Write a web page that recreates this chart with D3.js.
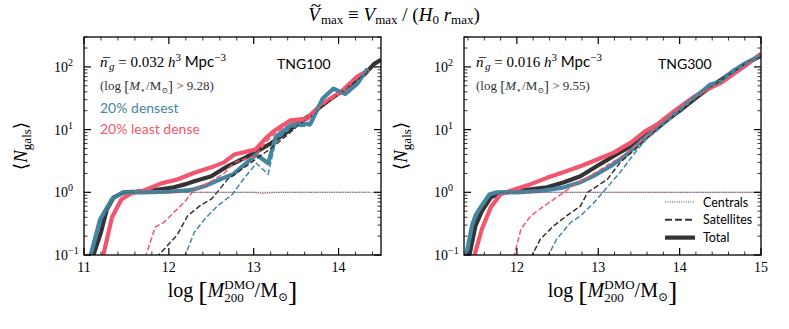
<!DOCTYPE html>
<html>
<head>
<meta charset="utf-8">
<script src="https://cdn.jsdelivr.net/npm/d3@7"></script>
<style>
body { margin: 0; background: #fff; }
svg text { white-space: pre; }
</style>
</head>
<body>
<svg id="fig" width="789" height="329"></svg>
<script>
// ---- TNG100 (left panel): [log M200, <N>] ----
var tng100AllTotal = [[11.10,0.09],[11.20,0.23],[11.27,0.54],[11.35,0.83],[11.47,1.0],[11.62,1.03],[11.86,1.1],[12.06,1.2],[12.2,1.35],[12.3,1.5],[12.5,1.8],[12.69,2.6],[12.89,3.5],[13.04,4.5],[13.2,6],[13.4,9.3],[13.55,13.5],[13.67,17],[13.8,24],[13.91,31],[14.03,40],[14.15,54],[14.3,75],[14.42,112],[14.5,130]];
var tng100LowTotal = [[11.22,0.09],[11.33,0.4],[11.44,0.77],[11.56,0.97],[11.71,1.07],[11.91,1.39],[12.1,1.6],[12.3,2.05],[12.5,2.5],[12.65,3.0],[12.77,4.0],[13.02,4.8],[13.13,7],[13.23,9.3],[13.43,14],[13.63,15],[13.79,25],[14.03,40],[14.22,70],[14.36,90]];
var tng100HighTotal = [[11.07,0.09],[11.19,0.37],[11.33,0.78],[11.46,1.0],[11.7,1.0],[12.0,1.02],[12.21,1.07],[12.3,1.12],[12.45,1.3],[12.6,1.6],[12.76,1.95],[13.03,4.0],[13.17,2.9],[13.26,7.7],[13.45,12],[13.67,12.5],[13.81,31],[13.94,45],[14.08,37],[14.22,54],[14.34,93]];

var tng100AllSat = [[11.85,0.09],[11.98,0.14],[12.1,0.21],[12.22,0.42],[12.36,0.6],[12.5,0.78],[12.57,1.0],[12.69,1.6],[12.89,2.5],[13.04,3.5],[13.2,5],[13.4,8.3],[13.55,12.5],[13.67,16],[13.8,23],[13.91,30],[14.03,39],[14.15,53],[14.3,74],[14.42,111],[14.5,129]];
var tng100LowSat = [[11.72,0.09],[11.84,0.28],[11.94,0.33],[12.06,0.48],[12.18,0.69],[12.3,1.1],[12.5,1.5],[12.65,2.0],[12.77,3.0],[13.02,3.8],[13.13,6],[13.23,8.3],[13.43,13],[13.63,14],[13.79,24],[14.03,39],[14.22,69],[14.36,89]];
var tng100HighSat = [[12.18,0.09],[12.3,0.23],[12.42,0.37],[12.57,0.6],[12.75,0.93],[12.86,1.5],[13.03,2.9],[13.17,1.95],[13.26,6.7],[13.45,11],[13.67,11.5],[13.81,30],[13.94,44],[14.08,36],[14.22,53],[14.34,92]];

var tng100AllCen = [[11.10,0.09],[11.20,0.23],[11.27,0.54],[11.35,0.83],[11.47,0.98],[11.62,1.0],[14.5,1.0]];
var tng100LowCen = [[11.22,0.09],[11.33,0.4],[11.44,0.77],[11.56,0.97],[11.71,1.0],[13.0,1.0],[13.1,0.97],[13.2,1.0],[14.36,1.0]];
var tng100HighCen = [[11.07,0.09],[11.19,0.37],[11.33,0.78],[11.46,0.99],[11.7,1.0],[13.0,1.0],[13.1,0.94],[13.2,0.97],[13.3,1.0],[14.34,1.0]];

// ---- TNG300 (right panel) ----
var tng300AllTotal = [[11.41,0.09],[11.49,0.29],[11.57,0.5],[11.68,0.83],[11.8,0.98],[12.0,1.05],[12.37,1.2],[12.58,1.45],[12.78,1.8],[12.98,2.6],[13.19,3.8],[13.35,5.0],[13.52,7],[13.75,11.5],[14.0,20],[14.2,32],[14.4,50],[14.6,75],[14.8,112],[15.0,150]];
var tng300LowTotal = [[11.47,0.09],[11.57,0.26],[11.68,0.58],[11.8,0.93],[11.96,1.1],[12.17,1.35],[12.37,1.7],[12.58,2.1],[12.78,2.6],[12.98,3.3],[13.19,4.3],[13.4,6.2],[13.57,9.3],[13.72,12],[13.96,21],[14.17,33],[14.37,46],[14.5,55],[14.65,75],[14.82,107],[15.0,162]];
var tng300HighTotal = [[11.37,0.09],[11.45,0.3],[11.5,0.45],[11.57,0.62],[11.66,0.92],[11.75,1.0],[12.0,1.0],[12.3,1.05],[12.58,1.2],[12.78,1.45],[12.95,1.85],[13.15,2.6],[13.35,4.0],[13.55,7.0],[13.76,11.5],[13.96,19],[14.13,29],[14.29,42],[14.37,52],[14.5,58],[14.65,85],[14.82,115],[15.0,155]];

var tng300AllSat = [[12.17,0.09],[12.29,0.18],[12.45,0.29],[12.61,0.42],[12.78,0.6],[12.87,1.0],[13.11,1.6],[13.27,3.0],[13.48,5.2],[13.7,9.5],[13.96,18],[14.2,31],[14.4,49],[14.6,74],[14.8,111],[15.0,149]];
var tng300LowSat = [[11.96,0.09],[12.05,0.26],[12.17,0.42],[12.33,0.6],[12.49,0.83],[12.66,1.2],[12.86,1.7],[13.07,2.5],[13.27,3.6],[13.48,5.8],[13.72,11],[13.96,20],[14.17,32],[14.37,45],[14.5,54],[14.65,74],[14.82,106],[15.0,161]];
var tng300HighSat = [[12.37,0.09],[12.49,0.18],[12.66,0.33],[12.78,0.42],[12.95,0.69],[13.07,1.05],[13.27,2.1],[13.48,4.8],[13.59,7],[13.76,10.5],[13.96,18],[14.13,28],[14.37,51],[14.5,57],[14.65,84],[14.82,114],[15.0,154]];

var tng300AllCen = [[11.41,0.09],[11.49,0.29],[11.57,0.5],[11.68,0.83],[11.8,0.98],[12.0,1.0],[15.0,1.0]];
var tng300LowCen = [[11.47,0.09],[11.57,0.26],[11.68,0.58],[11.8,0.93],[11.96,1.0],[15.0,1.0]];
var tng300HighCen = [[11.37,0.09],[11.45,0.3],[11.5,0.45],[11.57,0.62],[11.66,0.92],[11.75,1.0],[15.0,1.0]];

var xTicks100 = [11, 12, 13, 14];
var xTicks300 = [12, 13, 14, 15];
var yTicks = [0.1, 1, 10, 100];
var yTickExp = ['\u22121', '0', '1', '2'];
var legendLabels = ['Centrals', 'Satellites', 'Total'];

var colors = { all: '#333333', low: '#f2566e', high: '#4585a0' };
var serif = "'Liberation Serif', 'DejaVu Serif', serif";
var sans = "Lato, 'Open Sans', sans-serif";

var svg = d3.select('#fig');
svg.append('rect').attr('width', 789).attr('height', 329).attr('fill', '#fff');

// small helper to lay out math-ish text from pieces
function mathText(parent, parts, opts) {
  var outer = parent.append('g')
    .attr('transform', 'translate(' + opts.x + ',' + opts.y + ')' + (opts.rotate ? ' rotate(' + opts.rotate + ')' : ''));
  var grp = outer.append('g');
  var cx = 0, lastStart = 0, lastEnd = 0;
  parts.forEach(function(p) {
    var x0 = (p.stack ? lastStart : cx) + (p.dx || 0);
    var t = grp.append('text')
      .attr('x', x0)
      .attr('y', p.dy || 0)
      .style('font-size', (p.size || opts.size) + 'px')
      .style('font-style', p.it ? 'italic' : 'normal')
      .style('font-family', p.sans ? sans : serif)
      .attr('fill', opts.color || '#000')
      .text(p.t);
    var end = x0 + t.node().getComputedTextLength();
    if (p.stack) cx = Math.max(lastEnd, end); else cx = end;
    if (!p.stack) { lastStart = x0; }
    lastEnd = Math.max(end, p.stack ? lastEnd : end);
  });
  var shift = opts.anchor === 'middle' ? -cx / 2 : (opts.anchor === 'end' ? -cx : 0);
  grp.attr('transform', 'translate(' + shift + ',0)');
  return outer;
}

var plotTop = 37, plotBottom = 255;
var y = d3.scaleLog().domain([0.1, 300]).range([plotBottom, plotTop]);

var panels = [
  { x0: 84, x1: 381, domain: [11, 14.5], ticks: xTicks100, id: 'p100',
    total: [tng100AllTotal, tng100LowTotal, tng100HighTotal],
    sat: [tng100AllSat, tng100LowSat, tng100HighSat],
    cen: [tng100AllCen, tng100LowCen, tng100HighCen] },
  { x0: 464, x1: 761, domain: [11.35, 15], ticks: xTicks300, id: 'p300',
    total: [tng300AllTotal, tng300LowTotal, tng300HighTotal],
    sat: [tng300AllSat, tng300LowSat, tng300HighSat],
    cen: [tng300AllCen, tng300LowCen, tng300HighCen] }
];
var order = ['all', 'low', 'high'];

panels.forEach(function(p) {
  var x = d3.scaleLinear().domain(p.domain).range([p.x0, p.x1]);
  var g = svg.append('g');

  g.append('clipPath').attr('id', 'clip-' + p.id)
    .append('rect').attr('x', p.x0).attr('y', plotTop).attr('width', p.x1 - p.x0).attr('height', plotBottom - plotTop);

  var line = d3.line().x(function(d) { return x(d[0]); }).y(function(d) { return y(d[1]); });
  var plot = g.append('g').attr('clip-path', 'url(#clip-' + p.id + ')');

  order.forEach(function(k, i) {
    plot.append('path').attr('d', line(p.total[i]))
      .attr('fill', 'none').attr('stroke', colors[k]).attr('stroke-width', 4.2)
      .attr('stroke-linejoin', 'round');
  });
  order.forEach(function(k, i) {
    plot.append('path').attr('d', line(p.sat[i]))
      .attr('fill', 'none').attr('stroke', colors[k]).attr('stroke-width', 1.5)
      .attr('stroke-dasharray', '5.5,2.5');
  });
  order.forEach(function(k, i) {
    plot.append('path').attr('d', line(p.cen[i]))
      .attr('fill', 'none').attr('stroke', colors[k]).attr('stroke-width', 0.9)
      .attr('stroke-dasharray', '1,1.3');
  });

  // frame
  g.append('rect').attr('x', p.x0).attr('y', plotTop).attr('width', p.x1 - p.x0).attr('height', plotBottom - plotTop)
    .attr('fill', 'none').attr('stroke', '#000').attr('stroke-width', 1.3);

  // x ticks (major + minor every 0.2), on bottom and top
  var minorX = d3.range(Math.ceil(p.domain[0] * 5), Math.floor(p.domain[1] * 5) + 1).map(function(v) { return v / 5; });
  minorX.forEach(function(v) {
    var major = Math.abs(v - Math.round(v)) < 1e-6;
    var len = major ? 7 : 3.5;
    [[plotBottom, -len], [plotTop, len]].forEach(function(s) {
      g.append('line').attr('x1', x(v)).attr('x2', x(v)).attr('y1', s[0]).attr('y2', s[0] + s[1])
        .attr('stroke', '#000').attr('stroke-width', major ? 1.2 : 0.8);
    });
  });
  p.ticks.forEach(function(v) {
    g.append('text').attr('x', x(v)).attr('y', 272).attr('text-anchor', 'middle')
      .style('font-family', serif).style('font-size', '14px').text(v);
  });

  // y ticks, left and right
  y.ticks().forEach(function(v) {
    var major = Math.abs(Math.log10(v) - Math.round(Math.log10(v))) < 1e-6;
    var len = major ? 7 : 3.5;
    [[p.x0, len], [p.x1, -len]].forEach(function(s) {
      g.append('line').attr('x1', s[0]).attr('x2', s[0] + s[1]).attr('y1', y(v)).attr('y2', y(v))
        .attr('stroke', '#000').attr('stroke-width', major ? 1.2 : 0.8);
    });
  });
  yTicks.forEach(function(v, i) {
    mathText(g, [{ t: '10' }, { t: yTickExp[i], size: 10, dy: -6 }],
      { x: p.x0 - 30, y: y(v) + 5, size: 14 });
  });

  // axis labels
  mathText(g, [
    { t: 'log ' }, { t: '[', size: 28, dy: 4 }, { t: 'M', it: true },
    { t: '200', size: 13, dy: 5 }, { t: 'DMO', size: 13, dy: -8, stack: true },
    { t: '/M' }, { t: '\u2299', size: 12, dy: 4 }, { t: ']', size: 28, dy: 4 }
  ], { x: (p.x0 + p.x1) / 2, y: 297, size: 20, anchor: 'middle' });

  mathText(g, [{ t: '\u27E8' }, { t: 'N', it: true }, { t: 'gals', size: 13, dy: 4 }, { t: '\u27E9' }],
    { x: p.x0 - 57, y: (plotTop + plotBottom) / 2, size: 19, anchor: 'middle', rotate: -90 });
});

// annotations
var leftX = 100, rightX = 476;
[[leftX, '0.032', '9.28', 'TNG100', 277], [rightX, '0.016', '9.55', 'TNG300', 658]].forEach(function(a) {
  mathText(svg, [
    { t: 'n', it: true }, { t: '\u00AF', it: true, dx: 1.5, dy: 1, stack: true },
    { t: 'g', it: true, size: 11, dy: 3 },
    { t: ' = ' + a[1] + ' ' }, { t: 'h', it: true }, { t: '3', size: 11, dy: -6 },
    { t: ' Mpc', sans: true }, { t: '\u22123', size: 11, dy: -6 }
  ], { x: a[0], y: 67, size: 15 });
  mathText(svg, [
    { t: '(log ' }, { t: '[', size: 15, dy: 1 }, { t: 'M', it: true }, { t: '\u22C6', size: 9, dy: 3 },
    { t: '/M' }, { t: '\u2299', size: 8, dy: 3 }, { t: ']', size: 15, dy: 1 }, { t: ' > ' + a[2] + ')' }
  ], { x: a[0], y: 90, size: 13, color: '#333' });
  svg.append('text').attr('x', a[4]).attr('y', 69)
    .style('font-family', sans).style('font-size', '14px').text(a[3]);
});
svg.append('text').attr('x', leftX).attr('y', 113).attr('fill', colors.high)
  .style('font-family', sans).style('font-size', '14px').text('20% densest');
svg.append('text').attr('x', leftX).attr('y', 134).attr('fill', colors.low)
  .style('font-family', sans).style('font-size', '14px').text('20% least dense');

// legend (right panel)
var legendStyles = [
  { w: 0.9, dash: '1,1.3' },
  { w: 2, dash: '7,3' },
  { w: 4.2, dash: null }
];
legendLabels.forEach(function(lbl, i) {
  var ly = 202 + i * 17.8;
  svg.append('line').attr('x1', 665).attr('x2', 695).attr('y1', ly).attr('y2', ly)
    .attr('stroke', colors.all).attr('stroke-width', legendStyles[i].w)
    .attr('stroke-dasharray', legendStyles[i].dash);
  svg.append('text').attr('x', 703).attr('y', ly + 4.5)
    .style('font-family', sans).style('font-size', '12.5px').text(lbl);
});

// title
mathText(svg, [
  { t: 'V', it: true }, { t: '~', dx: 2.5, dy: -9.5, stack: true },
  { t: 'max', size: 13, dy: 3 }, { t: ' \u2261 ' }, { t: 'V', it: true }, { t: 'max', size: 13, dy: 3 },
  { t: ' / (' }, { t: 'H', it: true }, { t: '0', size: 13, dy: 3 }, { t: ' ' }, { t: 'r', it: true },
  { t: 'max', size: 13, dy: 3 }, { t: ')' }
], { x: 394, y: 21, size: 19, anchor: 'middle' });
</script>
</body>
</html>
